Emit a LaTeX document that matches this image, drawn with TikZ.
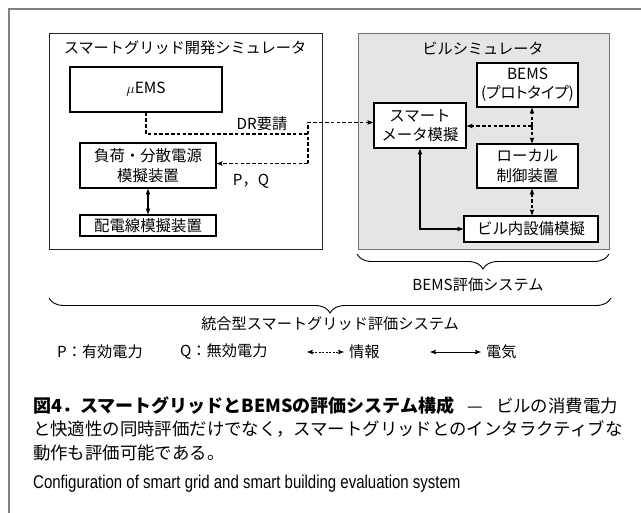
\documentclass[tikz,border=0pt]{standalone}
\usepackage{fontspec}
\setmainfont{Noto Sans CJK JP}
\newfontfamily\jpp[RawFeature=+palt]{Noto Sans CJK JP}
\newfontfamily\enf{Liberation Sans}
\usetikzlibrary{arrows.meta,decorations.pathreplacing,calc}
\tikzset{
  >={Stealth[length=6pt,width=4.4pt,inset=1pt]},
  box/.style={draw=black, line width=1.1pt, fill=white, inner sep=0pt, align=center,
              font=\fontsize{15.4}{19.5}\selectfont},
  bigbox/.style={line width=1pt, inner sep=0pt, anchor=north west},
  lbl/.style={inner sep=0pt, font=\fontsize{15.2}{19}\selectfont},
  dsh/.style={line width=1.15pt, dash pattern=on 3.6pt off 2.2pt},
  sol/.style={line width=1.15pt},
  brc/.style={decorate, decoration={brace,mirror,amplitude=15pt}, line width=0.9pt},
}
\begin{document}
\begin{tikzpicture}[x=1pt,y=-1pt]
\useasboundingbox (0,0) rectangle (641,513);
% outer frame
\draw[black!50, line width=1.3pt] (9,513) -- (9,9) -- (641,9);
% simulators
\node[bigbox, draw=black!85, minimum width=273pt, minimum height=216pt] (gsim) at (49,33) {};
\node[bigbox, draw=black!55, fill=black!10, minimum width=251pt, minimum height=216pt] (bsim) at (358,33) {};
\node[lbl] (gtitle) at (185,48) {スマートグリッド開発シミュレータ};
\node[lbl] (btitle) at (483,49) {ビルシミュレータ};
% left boxes
\node[box, minimum width=152pt, minimum height=45pt] (uems) at (146,89.5) {$\mu$EMS};
\node[box, minimum width=136pt, minimum height=45pt] (load) at (148,165.5) {負荷・分散電源\\模擬装置};
\node[box, minimum width=136pt, minimum height=21pt] (wire) at (148,225.5) {配電線模擬装置};
% right boxes
\node[box, minimum width=101pt, minimum height=44pt] (bems) at (527.5,85) {BEMS\\{\jpp (プロトタイプ)}};
\node[box, minimum width=92pt, minimum height=45pt] (smeter) at (420,125.5) {スマート\\メータ模擬};
\node[box, minimum width=101pt, minimum height=44pt] (local) at (527.5,166) {ローカル\\制御装置};
\node[box, minimum width=134pt, minimum height=26pt] (equip) at (531,229) {ビル内設備模擬};
% left connectors
\coordinate (jdr) at (308,134);
\coordinate (jtop) at (308,122.5);
\coordinate (jbot) at (308,163.5);
\draw[dsh] (uems.south) |- (jdr);
\draw[dsh,->] (jbot) -- (jtop) -- (smeter.west |- jtop);
\draw[dsh,->] (jbot) -- (load.east |- jbot);
\node[lbl] (dr) at (262,124) {DR要請};
\node[lbl] (pq) at (251,181) {P，Q};
\draw[sol,<->] (load.south) -- (wire.north);
% right connectors
\coordinate (jr) at (532,126);
\draw[dsh,->] (jr) -- (smeter.east |- jr);
\draw[dsh,->] (jr) -- (jr |- bems.south);
\draw[dsh,->] (jr) -- (jr |- local.north);
\draw[dsh,<->] (jr |- local.south) -- (jr |- equip.north);
\draw[sol,<->] (smeter.south) |- (equip.west);
% braces
\coordinate (b1a) at (357,254);
\coordinate (b1b) at (609,254);
\draw[brc] (b1a) -- (b1b);
\node[lbl] (bemseval) at (478,285) {BEMS評価システム};
\coordinate (b2a) at (49,298);
\coordinate (b2b) at (611,298);
\draw[brc] (b2a) -- (b2b);
\node[lbl] (total) at (330,324) {統合型スマートグリッド評価システム};
% legend
\node[lbl, anchor=west] (legp) at (57,352) {P：有効電力};
\node[lbl, anchor=west] (legq) at (180,352) {Q：無効電力};
\coordinate (ld1) at (307,352);
\coordinate (ld2) at (344,352);
\draw[line width=0.9pt, dash pattern=on 2pt off 1.5pt, <->] (ld1) -- (ld2);
\node[lbl, anchor=west] (legi) at (349,352) {情報};
\coordinate (ls1) at (430,352);
\coordinate (ls2) at (481,352);
\draw[line width=0.9pt, <->] (ls1) -- (ls2);
\node[lbl, anchor=west] (lege) at (486,352) {電気};
% caption
\node[inner sep=0pt, anchor=north west, align=left, font=\fontsize{17.4}{23.5}\selectfont] (cap) at (33,396)
 {\makebox[594pt][l]{{\bfseries\fontsize{18}{23.5}\selectfont 図4．スマートグリッドとBEMSの評価システム構成}\hspace{4pt plus 1fil}—\hspace{4pt plus 1fil}ビルの消費電力}\\
  と快適性の同時評価だけでなく，スマートグリッドとのインタラクティブな\\
  動作も評価可能である。};
\node[inner sep=0pt, anchor=west, font=\enf\fontsize{18.5}{20}\selectfont] (eng) at (33,484)
 {\scalebox{0.81}[1]{Configuration of smart grid and smart building evaluation system}};
\end{tikzpicture}
\end{document}
